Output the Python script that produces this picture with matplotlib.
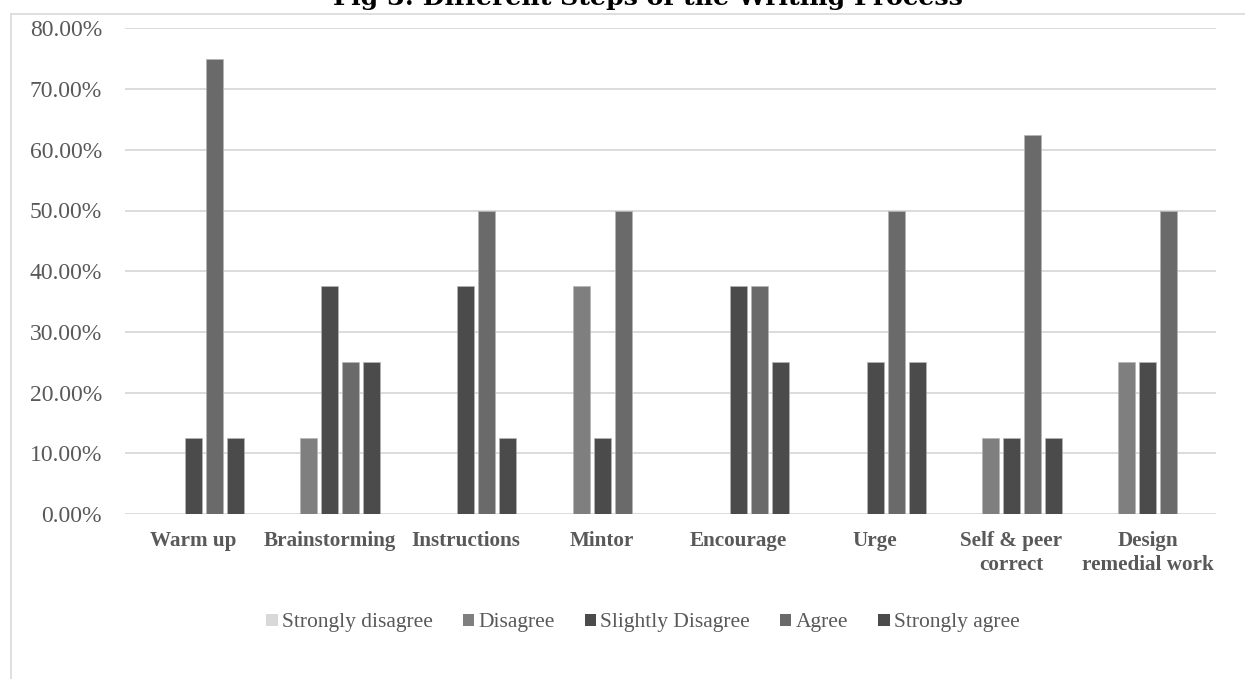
import matplotlib
matplotlib.use("Agg")
import matplotlib.pyplot as plt
import numpy as np
from matplotlib.patches import Patch
from matplotlib.lines import Line2D

categories = ["Warm up", "Brainstorming", "Instructions", "Mintor", "Encourage",
              "Urge", "Self & peer\ncorrect", "Design\nremedial work"]
series_names = ["Strongly disagree", "Disagree", "Slightly Disagree", "Agree", "Strongly agree"]
strongly_disagree = [0.0, 0.0, 0.0, 0.0, 0.0, 0.0, 0.0, 0.0]
disagree = [0.0, 0.125, 0.0, 0.375, 0.0, 0.0, 0.125, 0.25]
slightly_disagree = [0.125, 0.375, 0.375, 0.125, 0.375, 0.25, 0.125, 0.25]
agree = [0.75, 0.25, 0.50, 0.50, 0.375, 0.50, 0.625, 0.50]
strongly_agree = [0.125, 0.25, 0.125, 0.0, 0.25, 0.25, 0.125, 0.0]
y_ticks = [0.0, 0.1, 0.2, 0.3, 0.4, 0.5, 0.6, 0.7, 0.8]
title = "Fig 3: Different Steps of the Writing Process"

series = [strongly_disagree, disagree, slightly_disagree, agree, strongly_agree]
colors = ["#d9d9d9", "#7f7f7f", "#4b4b4b", "#6a6a6a", "#4b4b4b"]
text_color = "#595959"
grid_color = "#d9d9d9"
serif = ["Liberation Serif", "DejaVu Serif"]

W, H = 1245, 679
fig = plt.figure(figsize=(W / 100, H / 100), dpi=100)
ax = fig.add_axes([125 / W, 1 - 514 / H, (1216 - 125) / W, (514 - 28.4) / H])

x = np.arange(len(categories))
bar_w = 0.125
step = 0.154
for i, (vals, col) in enumerate(zip(series, colors)):
    ax.bar(x + (i - 2) * step, vals, width=bar_w, color=col,
           edgecolor="#b5b5b5", linewidth=0.5, zorder=3)

ax.set_xlim(-0.5, len(categories) - 0.5)
ax.set_ylim(0, 0.8)
ax.set_yticks(y_ticks)
ax.set_yticklabels([f"{v * 100:.2f}%" for v in y_ticks], fontfamily=serif,
                   fontsize=17, color=text_color)
ax.set_xticks(x)
ax.set_xticklabels(categories, fontfamily=serif, fontsize=15.2,
                   fontweight="bold", color=text_color, linespacing=1.3)
ax.tick_params(axis="y", length=0, pad=16.5)
ax.tick_params(axis="x", length=0, pad=12)
ax.yaxis.grid(True, color=grid_color, linewidth=1.3, zorder=0)
ax.set_axisbelow(True)
for s in ax.spines.values():
    s.set_visible(False)

# outer chart frame (top and left edges)
fig.add_artist(Line2D([10.5 / W, 10.5 / W], [0, 1 - 14 / H], transform=fig.transFigure,
                      color=grid_color, linewidth=1.2))
fig.add_artist(Line2D([10.5 / W, 1], [1 - 14 / H, 1 - 14 / H], transform=fig.transFigure,
                      color=grid_color, linewidth=1.2))

fig.text(648 / W, 1 - 5 / H, title, ha="center", va="baseline",
         fontfamily=["DejaVu Serif"], fontweight="bold", fontsize=18.2, color="black")

handles = [Patch(facecolor=c, edgecolor="none") for c in colors]
fig.legend(handles, series_names, loc="center", bbox_to_anchor=(643 / W, 1 - 623 / H),
           ncol=5, frameon=False, handlelength=0.52, handleheight=0.52,
           handletextpad=0.2, columnspacing=1.4,
           prop={"family": serif, "size": 15.5}, labelcolor=text_color)

fig.savefig("out.png", dpi=100)
